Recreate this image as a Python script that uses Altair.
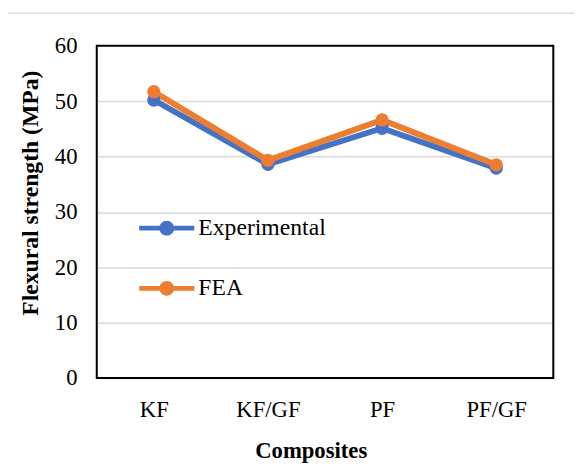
import altair as alt
import pandas as pd

categories = ["KF", "KF/GF", "PF", "PF/GF"]
experimental = [50.2, 38.6, 45.1, 37.9]
fea = [51.7, 39.3, 46.6, 38.5]
series_names = ["Experimental", "FEA"]
colors = ["#4472C4", "#ED7D31"]

rows = []
for i, c in enumerate(categories):
    rows.append({"Composite": c, "Series": "Experimental", "Value": experimental[i], "order": 0})
    rows.append({"Composite": c, "Series": "FEA", "Value": fea[i], "order": 1})
df = pd.DataFrame(rows)

FONT = "Times New Roman, Liberation Serif, serif"
FS = 23

legend_symbol = "M-3.73,-0.33H3.73V0.33H-3.73Z M1,0A1,1 0 1,1 -1,0A1,1 0 1,1 1,0Z"

x_enc = alt.X("Composite:N", sort=categories, scale=alt.Scale(paddingInner=0, paddingOuter=0),
              axis=alt.Axis(title="Composites", labelAngle=0, labelFontSize=FS, titleFontSize=FS,
                            labelFont=FONT, titleFont=FONT, titleFontWeight="bold",
                            labelColor="#000", titleColor="#000", ticks=False, domain=False,
                            labelPadding=21, titlePadding=19, titleX=217))
y_enc = alt.Y("Value:Q", scale=alt.Scale(domain=[0, 60]),
              axis=alt.Axis(title="Flexural strength (MPa)", values=[0, 10, 20, 30, 40, 50, 60],
                            labelFontSize=FS, titleFontSize=24, labelFont=FONT, titleFont=FONT,
                            titleFontWeight="bold", labelColor="#000", titleColor="#000",
                            ticks=False, domain=False, labelPadding=20, gridColor="#D9D9D9",
                            gridWidth=1.5, titleX=-55, titleY=149))
color_enc = alt.Color("Series:N", sort=series_names,
                      scale=alt.Scale(domain=series_names, range=colors),
                      legend=alt.Legend(title=None, orient="none", legendX=59, legendY=173,
                                        labelFont=FONT, labelFontSize=24, labelColor="#000",
                                        rowPadding=37, symbolType=legend_symbol, symbolSize=225,
                                        symbolStrokeWidth=0, labelOffset=20))

base = alt.Chart(df)
lines = base.mark_line(strokeWidth=6).encode(x=x_enc, y=y_enc, color=color_enc, detail="Series:N")
points = base.mark_point(filled=True, size=180, opacity=1).encode(
    x=x_enc, y=y_enc, color=color_enc, order=alt.Order("order:Q"))

one = pd.DataFrame({"a": [0]})
frame_v = alt.Chart(one).mark_rule(color="#D9D9D9", strokeWidth=1.5, clip=False).encode(
    x=alt.value(-92), y=alt.value(-33), y2=alt.value(450))
frame_h = alt.Chart(one).mark_rule(color="#D9D9D9", strokeWidth=1.5, clip=False).encode(
    x=alt.value(-92), x2=alt.value(500), y=alt.value(-33))
plot_frame = alt.Chart(one).mark_rect(fillOpacity=0, stroke="#000", strokeWidth=2, clip=False).encode(
    x=alt.value(0), x2=alt.value(463), y=alt.value(0), y2=alt.value(337))

chart = alt.layer(frame_v, frame_h, lines, points, plot_frame).properties(
    width=463, height=337,
    autosize=alt.AutoSizeParams(type="none"),
    padding={"left": 90, "top": 35, "right": 21, "bottom": 93},
).configure_view(strokeWidth=0).configure(background="white")

chart.save("out.html", embed_options={"renderer": "svg", "actions": False})
